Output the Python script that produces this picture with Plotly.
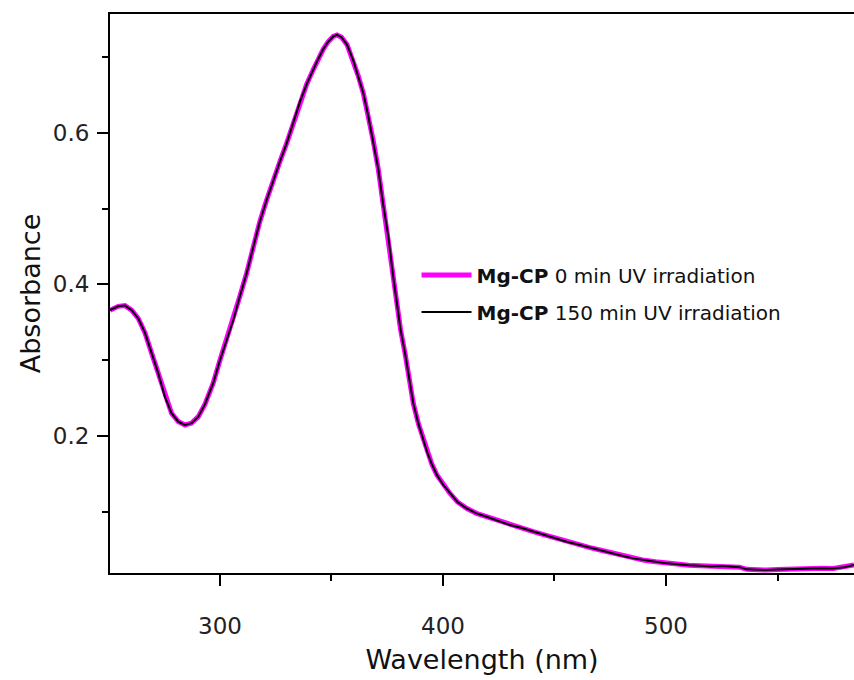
import plotly.graph_objects as go

wavelength = [250.7, 254.4, 257.4, 260.4, 263.4, 266.4, 269.4, 272.3, 275.3, 278.3, 281.3, 284.3,
              287.3, 290.3, 293.3, 297.0, 300.0, 303.0, 306.0, 309.0, 312.0, 315.0, 317.9, 320.9,
              323.9, 326.9, 329.9, 332.9, 335.9, 338.9, 341.8, 344.0, 346.3, 348.5, 350.8, 352.5,
              354.5, 357.0, 359.8, 362.0, 364.3, 366.5, 368.7, 371.0, 373.2, 375.5, 377.7, 379.2,
              381.0, 383.0, 385.0, 386.7, 389.0, 391.2, 393.0, 395.0, 397.2, 400.0, 403.1, 406.5,
              410.6, 415.0, 419.6, 425.0, 430.0, 435.0, 440.5, 445.5, 450.5, 455.5, 460.5, 465.5,
              470.4, 475.4, 480.3, 485.3, 490.3, 495.3, 500.3, 505.3, 510.2, 515.2, 520.2, 525.2,
              530.2, 533.0, 536.2, 540.0, 545.2, 550.0, 555.0, 560.1, 565.0, 570.0, 575.0, 580.0,
              584.3]
absorb_0min = [0.366, 0.371, 0.372, 0.366, 0.355, 0.336, 0.309, 0.283, 0.252, 0.230, 0.219, 0.2145,
               0.217, 0.2255, 0.242, 0.270, 0.300, 0.328, 0.353, 0.385, 0.415, 0.450, 0.483, 0.511,
               0.538, 0.562, 0.586, 0.613, 0.641, 0.664, 0.683, 0.697, 0.710, 0.720, 0.727, 0.729,
               0.726, 0.716, 0.695, 0.675, 0.652, 0.622, 0.590, 0.552, 0.505, 0.463, 0.410, 0.375,
               0.340, 0.309, 0.275, 0.243, 0.216, 0.195, 0.178, 0.163, 0.149, 0.136, 0.1244, 0.113,
               0.1046, 0.098, 0.0935, 0.088, 0.0826, 0.079, 0.0738, 0.0695, 0.065, 0.0606, 0.057, 0.053,
               0.0496, 0.046, 0.042, 0.0386, 0.036, 0.034, 0.032, 0.0305, 0.0295, 0.0289, 0.028, 0.0285,
               0.0276, 0.027, 0.0241, 0.0235, 0.0232, 0.0238, 0.0245, 0.0254, 0.0252, 0.0256, 0.0254, 0.027,
               0.0298]
absorb_150min = list(absorb_0min)

x_range = [250.7, 584.3]
y_range = [0.0193, 0.7566]

fig = go.Figure()
fig.add_trace(go.Scatter(
    x=wavelength, y=absorb_0min, mode="lines",
    line=dict(color="#FF00FF", width=5),
    name="<b>Mg-CP</b> 0 min UV irradiation", legendgroup="a"))
fig.add_trace(go.Scatter(
    x=wavelength, y=absorb_150min, mode="lines",
    line=dict(color="black", width=2),
    name="<b>Mg-CP</b> 150 min UV irradiation", legendgroup="b"))

tickfont = dict(family="DejaVu Sans", size=23, color="#222222")
titlefont = dict(family="DejaVu Sans", size=27, color="#111111")
fig.update_layout(
    width=854, height=680,
    margin=dict(l=110, r=0, t=14, b=107),
    plot_bgcolor="white", paper_bgcolor="white",
    font=dict(family="DejaVu Sans", color="#111111"),
    legend=dict(x=0.412, y=0.50, xanchor="left", yanchor="middle",
                bgcolor="rgba(0,0,0,0)", font=dict(family="DejaVu Sans", size=20, color="#111111"),
                tracegroupgap=8, itemwidth=50),
    xaxis=dict(range=x_range, showline=True, linecolor="black", linewidth=2, mirror=True,
               showgrid=False, zeroline=False, ticks="outside", ticklen=11, tickwidth=2,
               tickcolor="black", tick0=300, dtick=100, tickfont=tickfont, ticklabelstandoff=20,
               minor=dict(ticks="outside", ticklen=6, tickwidth=2, tickcolor="black", dtick=50, tick0=300),
               title=dict(text="Wavelength (nm)", font=titlefont, standoff=13)),
    yaxis=dict(range=y_range, showline=True, linecolor="black", linewidth=2, mirror=False,
               showgrid=False, zeroline=False, ticks="outside", ticklen=11, tickwidth=2,
               tickcolor="black", tick0=0, dtick=0.2, tickfont=tickfont, ticklabelstandoff=3,
               minor=dict(ticks="outside", ticklen=6, tickwidth=2, tickcolor="black", dtick=0.1, tick0=0),
               title=dict(text="Absorbance", font=titlefont, standoff=4)),
)

fig.write_html("out.html")
